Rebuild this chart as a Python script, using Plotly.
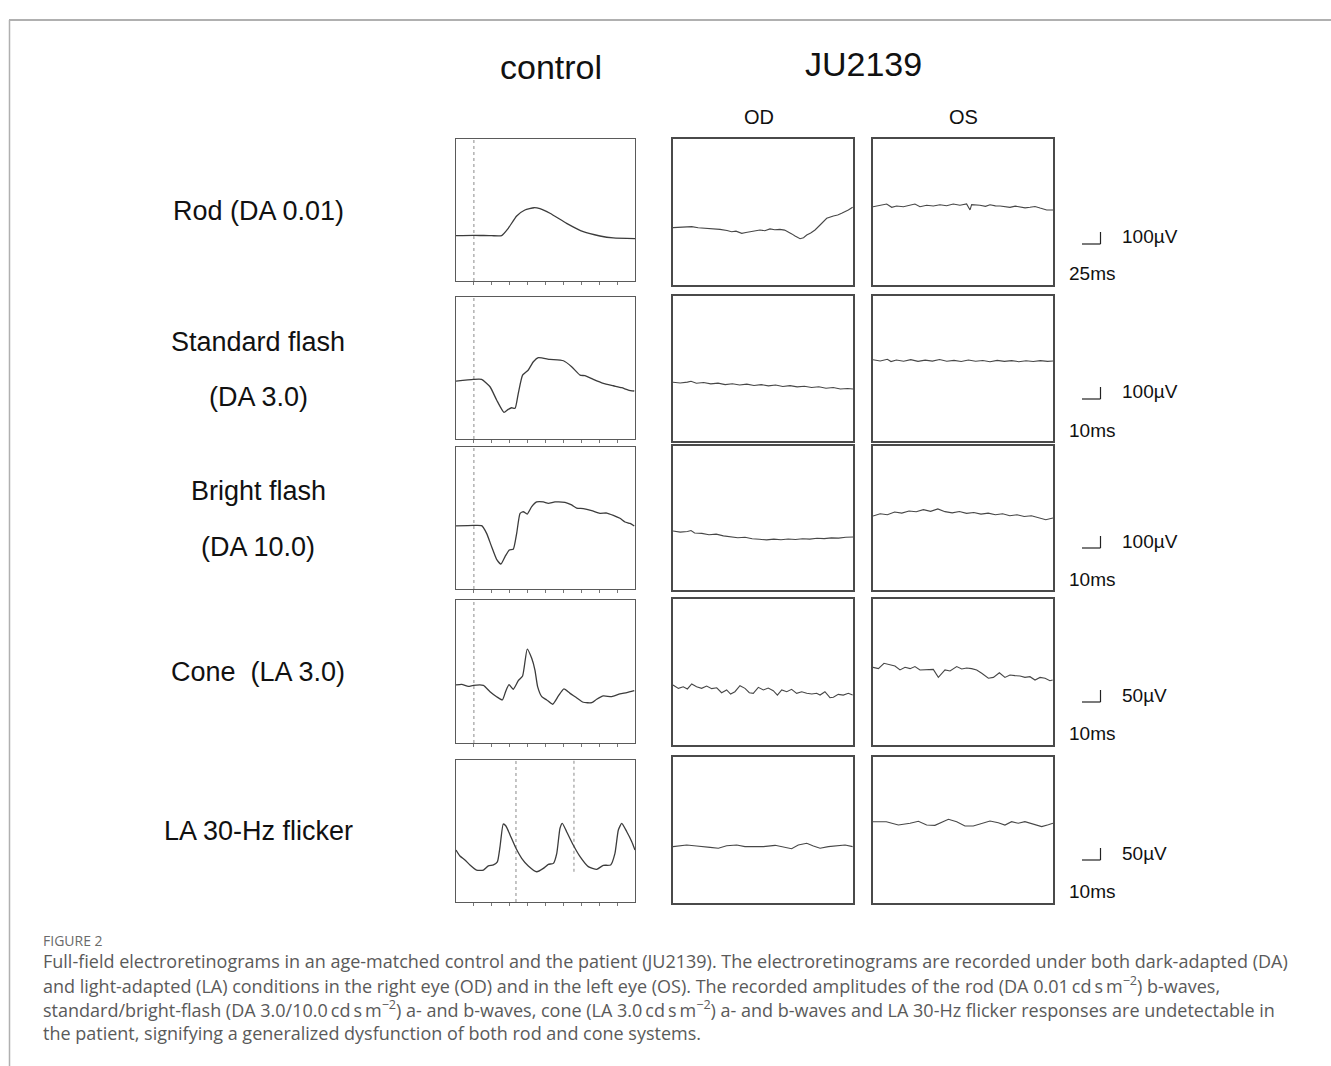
import plotly.graph_objects as go

# ---------------- DATA (time in screen divisions 0..10, amplitude in % of panel height) ----------
row_labels = [["Rod (DA 0.01)"], ["Standard flash", "(DA 3.0)"], ["Bright flash", "(DA 10.0)"],
              ["Cone  (LA 3.0)"], ["LA 30-Hz flicker"]]
amp_scale_labels = ["100µV", "100µV", "100µV", "50µV", "50µV"]
time_scale_labels = ["25ms", "10ms", "10ms", "10ms", "10ms"]
column_titles = ["OD", "OS"]
group_titles = ["control", "JU2139"]

# control traces
ctrl_rod_t = [0, 1.0, 2.0, 2.55, 2.92, 3.39, 3.85, 4.36, 4.69, 5.25, 6.18, 7.11, 8.04, 8.79, 10.0]
ctrl_rod_v = [32, 32.2, 31.9, 32, 37.1, 45.8, 50, 51.6, 50.9, 47.7, 40.6, 34.7, 31.7, 30.3, 29.8]

ctrl_std_t = [0, 0.97, 1.43, 1.9, 2.27, 2.68, 2.92, 3.11, 3.3, 3.48, 3.72, 4.04, 4.32, 4.6, 5.25, 6.0,
              6.46, 6.93, 7.2, 7.67, 8.23, 8.79, 9.26, 9.63, 9.96]
ctrl_std_v = [40.8, 42, 42, 36.8, 27.5, 18.8, 20.9, 22, 21.6, 32.2, 45, 48.6, 54.4, 57.3, 56.1, 55.1,
              50.9, 45, 44.6, 42, 39.2, 37.5, 36.1, 34.5, 33.8]

ctrl_bright_t = [0, 0.97, 1.43, 1.71, 1.99, 2.27, 2.51, 2.74, 2.98, 3.2, 3.39, 3.58, 3.76, 3.98, 4.23,
                 4.51, 4.88, 5.16, 5.53, 6.09, 6.46, 6.74, 7.11, 7.58, 8.04, 8.42, 8.79, 9.16, 9.44,
                 9.72, 9.96]
ctrl_bright_v = [44.4, 44.8, 44.6, 39.2, 29.8, 20.9, 17.6, 22.8, 27.5, 28, 39.2, 53.3, 54.4, 52.8, 58,
                 61.3, 61.3, 60.3, 61.3, 61, 59.2, 57, 56.6, 55.2, 53.3, 53.5, 51.9, 49.8, 47.2,
                 46.2, 44.4]

ctrl_cone_t = [0, 0.32, 0.69, 0.97, 1.53, 1.9, 2.27, 2.59, 2.77, 2.96, 3.2, 3.48, 3.72, 3.98, 4.23,
               4.41, 4.56, 4.79, 5.07, 5.4, 5.72, 6.03, 6.37, 6.7, 7.11, 7.58, 7.86, 8.23, 8.7, 9.16,
               9.54, 9.96]
ctrl_cone_v = [40.6, 41, 39.6, 40.3, 40.3, 35.9, 32.4, 30.1, 35.9, 40.8, 37.6, 43.6, 46.9, 65.7, 59.2,
               51, 39.4, 32.4, 30.1, 27.1, 32.9, 37.8, 34.7, 32, 28.5, 28.2, 30.6, 32.9, 32.4, 34.3,
               35.2, 36.6]

ctrl_flick_t = [0, 0.22, 0.5, 0.78, 1.15, 1.53, 1.81, 2.09, 2.31, 2.46, 2.64, 2.79, 3.02, 3.35, 3.67,
                4.04, 4.51, 4.88, 5.16, 5.44, 5.63, 5.81, 5.94, 6.18, 6.55, 6.93, 7.39, 7.86, 8.23,
                8.64, 8.88, 9.07, 9.26, 9.54, 9.82, 10.0]
ctrl_flick_v = [36.6, 32.4, 29.6, 26.1, 22.5, 22.5, 25.4, 26.1, 28.2, 39, 54.9, 53.5, 47.2, 37.8, 30.8,
                25.4, 21.3, 23.7, 26.5, 27.2, 34.3, 51.9, 55.4, 49.5, 40.1, 31.9, 24.9, 23, 25.8,
                26.1, 34.3, 50.7, 55.4, 49.5, 42.5, 36.6]

stim_div = [1, 1, 1, 1]            # flash onset (dotted line) in the control rows 1-4
flicker_stim_div = [3.35, 6.59]    # flicker markers
flicker_stim_top = [100, 100]
flicker_stim_bottom = [0, 21.3]

# patient traces (OD, OS)
od_rod_t = [0, 0.5, 1.04, 1.4, 1.87, 2.2, 2.61, 3.0, 3.26, 3.5, 3.82, 4.05, 4.28, 4.55, 4.83, 5.1, 5.39,
            5.65, 5.94, 6.2, 6.41, 6.6, 6.78, 7.06, 7.25, 7.43, 7.65, 7.89, 8.17, 8.54, 8.91, 9.15,
            9.37, 9.55, 9.74, 9.98]
od_rod_v = [39.3, 39.8, 40.0, 39.2, 38.8, 38.9, 38.1, 37.3, 36.5, 36.9, 35.4, 36.0, 36.5, 37.4, 37.7,
            37.2, 38.4, 37.8, 38.1, 37.6, 36.5, 35.0, 33.6, 31.7, 32.4, 34.2, 35.6, 37.7, 41.1, 45.7,
            47.3, 47.9, 49.1, 50.0, 51.4, 53.2]

os_rod_t = [0, 0.39, 0.76, 1.04, 1.31, 1.69, 2.06, 2.33, 2.61, 2.98, 3.35, 3.72, 4.09, 4.46, 4.83, 5.2,
            5.39, 5.48, 5.94, 6.25, 6.5, 6.8, 7.06, 7.35, 7.61, 7.9, 8.17, 8.45, 8.72, 9.0, 9.28,
            9.65, 10.0]
os_rod_v = [53.6, 54.6, 55.5, 53.2, 54.1, 53.6, 54.6, 55.5, 53.6, 54.6, 54.1, 55.0, 54.3, 55.5, 54.6,
            55.5, 51.4, 55.0, 54.6, 53.9, 55.0, 54.2, 54.1, 53.5, 53.2, 54.0, 53.6, 52.8, 53.2, 53.8,
            52.7, 51.4, 51.4]

od_std_t = [0, 0.4, 0.8, 1.0, 1.3, 1.7, 2.1, 2.5, 2.9, 3.3, 3.7, 4.1, 4.5, 4.9, 5.3, 5.7, 6.1, 6.5,
            6.9, 7.3, 7.7, 8.1, 8.5, 8.9, 9.3, 9.7, 10]
od_std_v = [40.5, 40.0, 40.6, 41.2, 39.8, 40.3, 39.4, 39.9, 38.9, 39.5, 38.6, 39.2, 38.3, 38.9, 38.0,
            38.6, 37.6, 38.2, 37.3, 37.8, 36.9, 37.4, 36.4, 36.9, 35.9, 36.2, 35.9]
os_std_t = [0, 0.4, 0.8, 1.0, 1.3, 1.7, 2.1, 2.5, 2.9, 3.3, 3.7, 4.1, 4.5, 4.9, 5.3, 5.7, 6.1, 6.5,
            6.9, 7.3, 7.7, 8.1, 8.5, 8.9, 9.3, 9.7, 10]
os_std_v = [56.0, 55.2, 56.4, 54.8, 55.9, 55.0, 56.1, 54.9, 55.8, 55.1, 56.2, 55.0, 55.6, 54.8, 55.9,
            55.0, 55.5, 54.7, 55.6, 54.9, 55.4, 54.7, 55.3, 54.8, 55.4, 54.9, 55.2]

od_bright_t = [0, 0.4, 0.8, 1.0, 1.2, 1.6, 2.0, 2.4, 2.8, 3.2, 3.6, 4.0, 4.4, 4.8, 5.2, 5.6, 6.0, 6.4,
               6.8, 7.2, 7.6, 8.0, 8.4, 8.8, 9.2, 9.6, 10]
od_bright_v = [41.0, 40.2, 40.6, 41.3, 39.6, 39.3, 38.4, 38.8, 37.6, 37.2, 36.3, 36.6, 35.6, 35.2, 34.8,
               35.3, 34.9, 35.4, 35.1, 35.6, 35.3, 35.9, 35.7, 36.2, 36.0, 36.6, 36.8]
os_bright_t = [0, 0.4, 0.8, 1.2, 1.6, 2.0, 2.4, 2.8, 3.2, 3.6, 4.0, 4.4, 4.8, 5.2, 5.6, 6.0, 6.4, 6.8,
               7.2, 7.6, 8.0, 8.4, 8.8, 9.2, 9.6, 10]
os_bright_v = [51.4, 52.9, 52.3, 54.2, 53.4, 54.9, 54.3, 55.8, 54.6, 56.3, 54.4, 53.6, 54.5, 53.2, 53.8,
               52.7, 53.4, 52.3, 52.9, 51.6, 52.3, 51.0, 51.6, 50.4, 48.8, 50.0]

od_cone_t = [0, 0.3, 0.57, 0.8, 1.04, 1.31, 1.59, 1.87, 2.15, 2.43, 2.7, 2.98, 3.2, 3.44, 3.72, 4.0,
             4.24, 4.46, 4.74, 5.02, 5.29, 5.57, 5.8, 6.04, 6.32, 6.59, 6.87, 7.15, 7.43, 7.71, 7.98,
             8.17, 8.44, 8.72, 8.91, 9.18, 9.46, 9.74, 9.98]
od_cone_v = [41.1, 38.8, 39.9, 38.4, 41.8, 39.9, 38.8, 40.4, 38.6, 39.2, 35.8, 37.7, 34.9, 36.5, 40.6,
             38.8, 35.8, 35.4, 39.5, 37.7, 39.0, 37.2, 34.2, 37.7, 36.5, 38.1, 35.4, 36.5, 35.4, 34.9,
             35.4, 34.2, 36.5, 32.4, 32.7, 34.7, 34.2, 35.4, 34.2]
os_cone_t = [0, 0.3, 0.61, 0.94, 1.22, 1.5, 1.78, 2.06, 2.33, 2.61, 2.98, 3.35, 3.63, 4.0, 4.28, 4.65,
             4.93, 5.2, 5.48, 5.76, 6.04, 6.41, 6.69, 7.02, 7.33, 7.61, 7.89, 8.17, 8.44, 8.72, 9.0,
             9.28, 9.56, 9.83, 9.98]
os_cone_v = [53.2, 52.3, 56.0, 54.8, 54.1, 51.4, 53.2, 52.3, 53.7, 51.4, 51.4, 51.8, 46.3, 51.4, 50.7,
             53.7, 52.1, 52.7, 52.3, 51.4, 49.1, 45.7, 46.3, 49.5, 46.3, 47.9, 47.5, 47.3, 46.3, 46.8,
             44.5, 46.3, 45.7, 44.0, 44.5]

od_flick_t = [0, 0.76, 1.31, 1.87, 2.06, 2.52, 2.98, 3.54, 4.0, 4.46, 5.02, 5.67, 6.13, 6.59, 6.96,
              7.43, 7.8, 8.17, 8.63, 9.09, 9.56, 9.98]
od_flick_v = [38.6, 39.7, 39.0, 38.6, 38.1, 37.5, 39.2, 39.7, 38.6, 38.6, 38.6, 39.5, 38.6, 37.2, 39.7,
              40.9, 39.0, 37.5, 38.6, 39.0, 39.7, 38.6]
os_flick_t = [0, 0.74, 1.41, 2.06, 2.52, 2.98, 3.44, 3.81, 4.19, 4.65, 5.11, 5.57, 6.04, 6.5, 6.96,
              7.33, 7.7, 8.07, 8.44, 8.91, 9.37, 9.74, 10.0]
os_flick_v = [55.7, 55.7, 53.4, 54.6, 56.0, 53.4, 53.2, 55.0, 57.3, 55.7, 52.7, 52.7, 54.6, 56.2, 55.0,
              53.4, 55.7, 54.6, 55.7, 54.1, 52.3, 53.6, 54.6]

caption_head = "FIGURE 2"
caption_lines = [
    "Full-field electroretinograms in an age-matched control and the patient (JU2139). The electroretinograms are recorded under both dark-adapted (DA)",
    "and light-adapted (LA) conditions in the right eye (OD) and in the left eye (OS). The recorded amplitudes of the rod (DA 0.01\u2009cd\u2009s\u2009m<sup>\u22122</sup>) b-waves,",
    "standard/bright-flash (DA 3.0/10.0\u2009cd\u2009s\u2009m<sup>\u22122</sup>) a- and b-waves, cone (LA 3.0\u2009cd\u2009s\u2009m<sup>\u22122</sup>) a- and b-waves and LA 30-Hz flicker responses are undetectable in",
    "the patient, signifying a generalized dysfunction of both rod and cone systems.",
]

control_t = [ctrl_rod_t, ctrl_std_t, ctrl_bright_t, ctrl_cone_t, ctrl_flick_t]
control_v = [ctrl_rod_v, ctrl_std_v, ctrl_bright_v, ctrl_cone_v, ctrl_flick_v]
od_t = [od_rod_t, od_std_t, od_bright_t, od_cone_t, od_flick_t]
od_v = [od_rod_v, od_std_v, od_bright_v, od_cone_v, od_flick_v]
os_t = [os_rod_t, os_std_t, os_bright_t, os_cone_t, os_flick_t]
os_v = [os_rod_v, os_std_v, os_bright_v, os_cone_v, os_flick_v]

# ---------------- LAYOUT GEOMETRY (pixels) ----------------
W, H = 1331, 1066
col_x = [(456, 635), (673, 853), (873, 1053)]
rows_ctrl = [(139, 281), (297, 439), (447, 589), (600, 743), (760, 902)]
rows_pat = [(139, 285), (296, 441), (446, 590), (599, 745), (757, 903)]
label_y = [[211], [342, 397], [491, 547], [672], [831]]
scale_amp_y = [237, 392, 541, 695, 853]
scale_time_y = [273, 430, 579, 733, 891]


def fx(px):
    return px / W


def fy(py):
    return 1 - py / H


fig = go.Figure()
layout_axes = {}
n = 0
FONT = "Liberation Sans, Arial, sans-serif"

for r in range(5):
    for c in range(3):
        n += 1
        xa = "xaxis" if n == 1 else f"xaxis{n}"
        ya = "yaxis" if n == 1 else f"yaxis{n}"
        xref = "x" if n == 1 else f"x{n}"
        yref = "y" if n == 1 else f"y{n}"
        x0, x1 = col_x[c]
        top, bot = rows_ctrl[r] if c == 0 else rows_pat[r]
        is_ctrl = c == 0
        lc = "#5a5a5a" if is_ctrl else "#4a4a4a"
        layout_axes[xa] = dict(domain=[fx(x0), fx(x1)], range=[0, 10], anchor=yref,
                               showgrid=False, zeroline=False, showticklabels=False,
                               showline=True, mirror=True, linecolor=lc,
                               linewidth=1.2 if is_ctrl else 1.6,
                               ticks="outside" if is_ctrl else "", tickvals=list(range(1, 10)),
                               ticklen=3, tickwidth=1, tickcolor="#777", fixedrange=True)
        layout_axes[ya] = dict(domain=[fy(bot), fy(top)], range=[0, 100], anchor=xref,
                               showgrid=False, zeroline=False, showticklabels=False,
                               showline=True, mirror=True, linecolor=lc,
                               linewidth=1.2 if is_ctrl else 1.6, ticks="", fixedrange=True)
        if is_ctrl:
            if r < 4:
                fig.add_trace(go.Scatter(x=[stim_div[r], stim_div[r]], y=[0, 100], xaxis=xref, yaxis=yref,
                                         mode="lines", line=dict(color="#8a8a8a", width=1, dash="dot"),
                                         hoverinfo="skip", showlegend=False))
            else:
                for k in range(len(flicker_stim_div)):
                    fig.add_trace(go.Scatter(x=[flicker_stim_div[k], flicker_stim_div[k]],
                                             y=[flicker_stim_bottom[k], flicker_stim_top[k]],
                                             xaxis=xref, yaxis=yref, mode="lines",
                                             line=dict(color="#8a8a8a", width=1, dash="dot"),
                                             hoverinfo="skip", showlegend=False))
            tt, vv = control_t[r], control_v[r]
            line = dict(color="#3c3c3c", width=1.3, shape="spline", smoothing=0.5)
        elif c == 1:
            tt, vv = od_t[r], od_v[r]
            line = dict(color="#474747", width=1.1)
        else:
            tt, vv = os_t[r], os_v[r]
            line = dict(color="#474747", width=1.1)
        fig.add_trace(go.Scatter(x=tt, y=vv, xaxis=xref, yaxis=yref, mode="lines",
                                 line=line, hoverinfo="skip", showlegend=False))

annotations = []
# group titles
annotations.append(dict(text=group_titles[0], x=fx(551), y=fy(67), xref="paper", yref="paper",
                        showarrow=False, font=dict(family=FONT, size=34, color="#111"),
                        xanchor="center", yanchor="middle"))
annotations.append(dict(text=group_titles[1], x=fx(863), y=fy(64), xref="paper", yref="paper",
                        showarrow=False, font=dict(family=FONT, size=34, color="#111"),
                        xanchor="center", yanchor="middle"))
for txt, cx in zip(column_titles, [759, 963]):
    annotations.append(dict(text=txt, x=fx(cx), y=fy(117), xref="paper", yref="paper", showarrow=False,
                            font=dict(family=FONT, size=20, color="#111"), xanchor="center", yanchor="middle"))
# row labels
for r in range(5):
    for txt, yy in zip(row_labels[r], label_y[r]):
        annotations.append(dict(text=txt, x=fx(258), y=fy(yy), xref="paper", yref="paper", showarrow=False,
                                font=dict(family=FONT, size=27, color="#111"),
                                xanchor="center", yanchor="middle"))
    annotations.append(dict(text=amp_scale_labels[r], x=fx(1120), y=fy(scale_amp_y[r]), xref="paper",
                            yref="paper", showarrow=False, font=dict(family=FONT, size=19, color="#111"),
                            xanchor="left", yanchor="middle"))
    annotations.append(dict(text=time_scale_labels[r], x=fx(1067), y=fy(scale_time_y[r]), xref="paper",
                            yref="paper", showarrow=False, font=dict(family=FONT, size=19, color="#111"),
                            xanchor="left", yanchor="middle"))

# caption
CAP = "Open Sans, Lato, sans-serif"
annotations.append(dict(text=caption_head, x=fx(41), y=fy(940), xref="paper", yref="paper", showarrow=False,
                        font=dict(family=CAP, size=14, color="#6a6a6a"), xanchor="left", yanchor="middle"))
for i, line in enumerate(caption_lines):
    annotations.append(dict(text=line, x=fx(41), y=fy(961 + 24 * i), xref="paper", yref="paper",
                            showarrow=False, font=dict(family=CAP, size=18, color="#5a5a5a"),
                            xanchor="left", yanchor="middle"))

shapes = []
# frame lines
shapes.append(dict(type="line", xref="paper", yref="paper", x0=fx(9), x1=1, y0=fy(20), y1=fy(20),
                   line=dict(color="#b0b0b0", width=2)))
shapes.append(dict(type="line", xref="paper", yref="paper", x0=fx(9.5), x1=fx(9.5), y0=fy(20), y1=0,
                   line=dict(color="#b0b0b0", width=1.5)))
# scale bar glyphs
for r in range(5):
    yb = scale_amp_y[r] + 7
    shapes.append(dict(type="line", xref="paper", yref="paper", x0=fx(1082), x1=fx(1100.5), y0=fy(yb), y1=fy(yb),
                       line=dict(color="#222", width=1.2)))
    shapes.append(dict(type="line", xref="paper", yref="paper", x0=fx(1100.5), x1=fx(1100.5), y0=fy(yb),
                       y1=fy(yb - 12), line=dict(color="#222", width=1.2)))

fig.update_layout(width=W, height=H, margin=dict(l=0, r=0, t=0, b=0), paper_bgcolor="white",
                  plot_bgcolor="white", showlegend=False, annotations=annotations, shapes=shapes,
                  **layout_axes)

fig.write_html("out.html", config={"displayModeBar": False},
               post_script="document.body.style.margin='0';document.body.style.overflow='hidden';")
